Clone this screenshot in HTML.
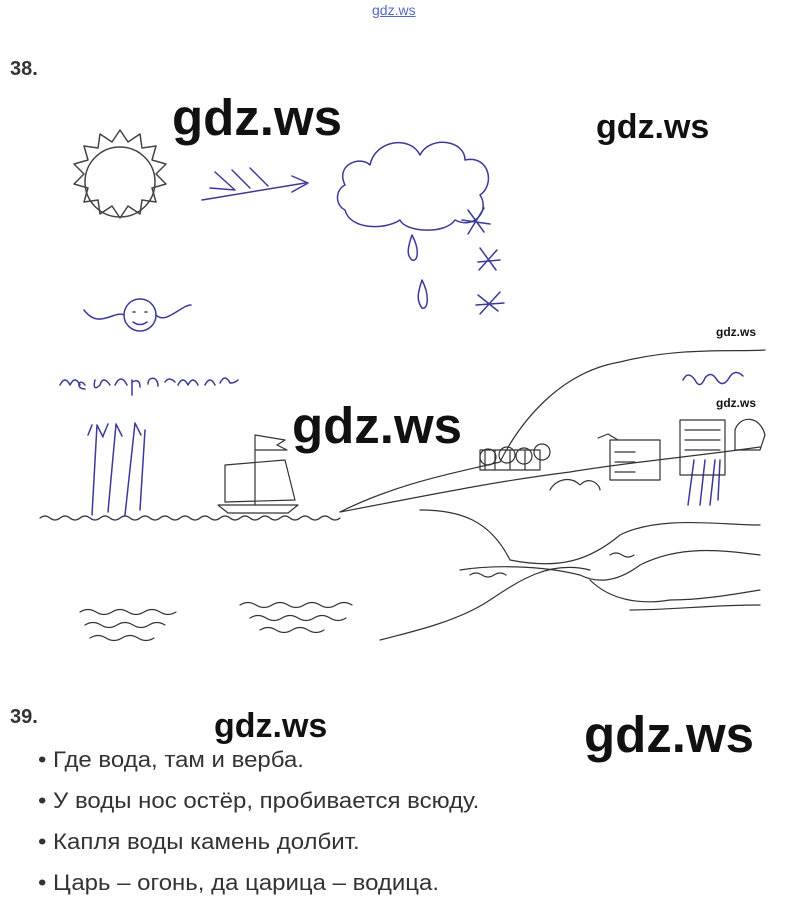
<!DOCTYPE html>
<html><head><meta charset="utf-8"><style>
body{margin:0;width:799px;height:909px;background:#fff;position:relative;overflow:hidden;font-family:"Liberation Sans",sans-serif}
.t{position:absolute;white-space:nowrap}
.wm{font-family:"Liberation Sans",sans-serif;font-weight:bold;color:#111}
.b{font-size:22px;color:#333;left:38px;transform:scaleX(1.09);transform-origin:0 0}
</style></head><body>
<div class="t" style="left:372px;top:2px;font-size:14px;color:#5566cc;text-decoration:underline">gdz.ws</div>
<div class="t" style="left:10px;top:58px;font-size:20px;font-weight:bold;color:#333">38.</div>
<div class="t wm" style="left:172px;top:88px;font-size:51px">gdz.ws</div>
<div class="t wm" style="left:596px;top:108px;font-size:34px">gdz.ws</div>
<div class="t wm" style="left:292px;top:396px;font-size:51px">gdz.ws</div>
<div class="t wm" style="left:716px;top:325px;font-size:12px">gdz.ws</div>
<div class="t wm" style="left:716px;top:396px;font-size:12px">gdz.ws</div>
<svg style="position:absolute;left:0;top:0" width="799" height="700" fill="none" stroke-linecap="round" stroke-linejoin="round">
<g stroke="#444" stroke-width="1.5">
<circle cx="120" cy="182" r="35"/>
<path d="M120 130 l8 12 l12-8 l2 14 l14-2 l-4 14 l14 4 l-10 10 l10 10 l-14 4 l4 14 l-14-2 l-2 14 l-12-8 l-8 12 l-8-12 l-12 8 l-2-14 l-14 2 l4-14 l-14-4 l10-10 l-10-10 l14-4 l-4-14 l14 2 l2-14 l12 8z"/>
</g>
<g stroke="#3a3a9a" stroke-width="1.5">
<path d="M202 200 L305 183 M292 176 L308 183 L292 192 M215 172 l20 18 M232 170 l18 18 M250 168 l18 18 M210 188 l25 2"/>
<path d="M345 185 c-10-20 15-30 25-20 c5-25 40-30 50-10 c10-20 45-15 45 5 c25-5 30 25 15 35 c10 15-5 35-25 25 c-10 15-50 12-55 0 c-15 10-50 10-55-10 c-10-5-10-20 0-25z"/>
<path d="M412 235 c-4 12-6 20 0 25 c6 2 8-10 0-25z M422 280 c-4 12-6 20 0 28 c6 2 8-12 0-28z"/>
<path d="M468 210 l16 22 M484 208 l-16 26 M462 220 l28 4 M480 248 l16 22 M497 250 l-18 20 M478 262 l22 -2 M478 295 l20 16 M500 292 l-20 22 M476 305 l28 -2"/>
<circle cx="140" cy="315" r="16"/>
<path d="M133 312 h2 M145 312 h2 M133 322 q7 5 14 0 M124 315 c-10 -5 -25 15 -40 -5 M156 315 c10 10 25 -10 35 -10"/>
<path d="M60 385 q5-10 10 0 q5-10 10 0 M85 385 c-6-8-10 4 0 4 M95 380 c-2 8 0 10 5 5 q3-10 10 0 M115 385 q6-12 12 0 M132 380 v15 M132 382 q8-4 8 5 M148 384 c0-8 10-8 10 2 M165 382 q4-6 10 0 M178 385 q5-10 10 0 q5-10 10 0 M205 385 q5-10 10 0 M220 383 q5-10 10 0 q5 0 8 -3"/>
<path d="M92 515 l5-90 l6 12 M108 512 l8-88 l6 12 M125 515 l10-92 l6 12 M140 510 l5-80 M88 435 l4-10 M103 436 l5-12"/>
<path d="M688 505 l6-45 M700 505 l5-45 M710 505 l5-45 M718 500 l2-40"/>
<path d="M683 380 q5-10 12 0 q5 10 10 -2 q6-8 12 2 q6 8 12 -2 q6-10 14 -2"/>
</g>
<g stroke="#333" stroke-width="1.2">
<path d="M255 435 v70 M255 435 l30 5 l-8 5 l10 5 l-32 0 M225 465 l60-5 l10 40 l-70 2z M218 505 l80 0 l-10 8 l-60 0z"/>
<path d="M40 518 q5-4 10 0 q5 4 10 0 q5-4 10 0 q5 4 10 0 q5-4 10 0 q5 4 10 0 q5-4 10 0 q5 4 10 0 q5-4 10 0 q5 4 10 0 q5-4 10 0 q5 4 10 0 q5-4 10 0 q5 4 10 0 q5-4 10 0 q5 4 10 0 q5-4 10 0 q5 4 10 0 q5-4 10 0 q5 4 10 0 q5-4 10 0 q5 4 10 0 q5-4 10 0 q5 4 10 0 q5-4 10 0 q5 4 10 0 q5-4 10 0 q5 4 10 0 q5-4 10 0 q5 4 10 0"/>
<path d="M340 512 c60-30 120-40 160-50 c20-40 60-90 120-100 c60-15 110-10 145-12"/>
<path d="M340 512 c80-15 150-30 230-40 c60-10 120-15 190-25"/>
<path d="M420 510 c40 0 70 10 90 50 c50 10 80 0 110-25 c40-20 100-10 140-10"/>
<path d="M460 570 c30-5 80-5 120 5 c20 10 40 5 60-10 c40-20 80-15 120-10 M590 580 c20 20 50 25 80 20 c30 0 60 -5 90 -10 M630 610 c40 0 80 -5 130 -5 M380 640 c40-10 80-20 110-40 c30-20 60-40 100-30"/>
<path d="M480 450 h60 v20 h-60z M485 470 v-20 M495 470 v-20 M510 470 v-20 M525 470 v-20 M540 470 v-20"/>
<circle cx="488" cy="457" r="8"/><circle cx="507" cy="455" r="8"/><circle cx="524" cy="456" r="8"/><circle cx="542" cy="452" r="8"/>
<path d="M610 440 h50 v40 h-50z M615 452 h20 M615 462 h20 M615 472 h20 M598 438 l10 -4 l10 6"/>
<path d="M680 420 h45 v55 h-45z M685 430 h35 M685 440 h35 M685 450 h35 M735 430 c5-15 25-15 30 5 l-5 15 h-25z"/>
<path d="M550 490 c5-10 20-15 30-5 c10 -10 20 0 20 5"/>
<path d="M80 612 q8-5 16 0 q8 5 16 0 q8-5 16 0 q8 5 16 0 q8-5 16 0 q8 5 16 0 M85 625 q8-5 16 0 q8 5 16 0 q8-5 16 0 q8 5 16 0 q8-5 16 0 M90 638 q8-5 16 0 q8 5 16 0 q8-5 16 0 q8 5 16 0"/>
<path d="M240 605 q8-5 16 0 q8 5 16 0 q8-5 16 0 q8 5 16 0 q8-5 16 0 q8 5 16 0 q8-5 16 0 M250 618 q8-5 16 0 q8 5 16 0 q8-5 16 0 q8 5 16 0 q8-5 16 0 q8 5 16 0 M260 630 q8-5 16 0 q8 5 16 0 q8-5 16 0 q8 5 16 0"/>
<path d="M470 575 q6-4 12 0 q6 4 12 0 q6-4 12 0 M610 555 q6-4 12 0 q6 4 12 0"/>
</g>
</svg>
<div class="t" style="left:10px;top:706px;font-size:20px;font-weight:bold;color:#333">39.</div>
<div class="t wm" style="left:214px;top:707px;font-size:34px">gdz.ws</div>
<div class="t wm" style="left:584px;top:705px;font-size:51px">gdz.ws</div>
<div class="t b" style="top:747px">• Где вода, там и верба.</div>
<div class="t b" style="top:788px">• У воды нос остёр, пробивается всюду.</div>
<div class="t b" style="top:829px">• Капля воды камень долбит.</div>
<div class="t b" style="top:870px">• Царь – огонь, да царица – водица.</div>
</body></html>
